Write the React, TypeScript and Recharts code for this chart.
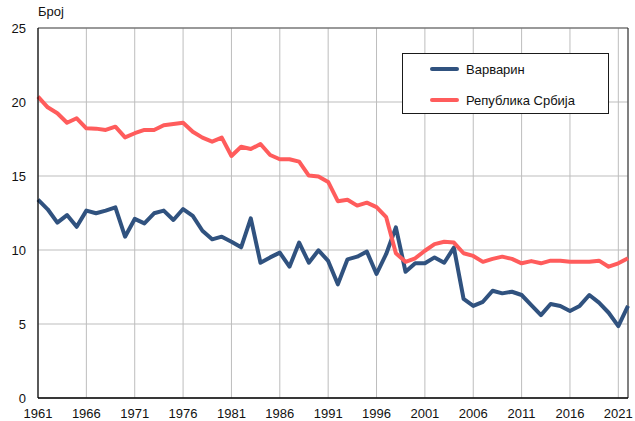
import React from "react";
import {
  LineChart,
  Line,
  XAxis,
  YAxis,
  CartesianGrid,
  Legend,
  ReferenceLine,
} from "recharts";

const years = [
  1961, 1962, 1963, 1964, 1965, 1966, 1967, 1968, 1969, 1970,
  1971, 1972, 1973, 1974, 1975, 1976, 1977, 1978, 1979, 1980,
  1981, 1982, 1983, 1984, 1985, 1986, 1987, 1988, 1989, 1990,
  1991, 1992, 1993, 1994, 1995, 1996, 1997, 1998, 1999, 2000,
  2001, 2002, 2003, 2004, 2005, 2006, 2007, 2008, 2009, 2010,
  2011, 2012, 2013, 2014, 2015, 2016, 2017, 2018, 2019, 2020,
  2021, 2022,
];

const varvarin = [
  13.4, 12.75, 11.85, 12.36, 11.57, 12.66, 12.48, 12.66, 12.88, 10.9,
  12.1, 11.8, 12.48, 12.66, 12.03, 12.77, 12.3, 11.3, 10.72, 10.9,
  10.56, 10.18, 12.14, 9.14, 9.5, 9.82, 8.87, 10.5, 9.14, 9.98,
  9.26, 7.68, 9.37, 9.55, 9.89, 8.38, 9.73, 11.53, 8.53, 9.1,
  9.1, 9.5, 9.14, 10.16, 6.69, 6.22, 6.5, 7.25, 7.07, 7.18,
  6.96, 6.28, 5.6, 6.35, 6.22, 5.88, 6.22, 6.96, 6.44, 5.76,
  4.86, 6.22,
];

const srbija = [
  20.36, 19.64, 19.24, 18.6, 18.9, 18.22, 18.2, 18.11, 18.33, 17.61,
  17.89, 18.11, 18.11, 18.43, 18.51, 18.6, 17.99, 17.59, 17.32, 17.59,
  16.35, 16.98, 16.82, 17.16, 16.42, 16.13, 16.13, 15.97, 15.03, 14.97,
  14.6, 13.3, 13.4, 13.0, 13.2, 12.9, 12.22, 9.78, 9.2, 9.44,
  9.95, 10.4, 10.56, 10.5, 9.78, 9.6, 9.2, 9.4, 9.55, 9.4,
  9.1, 9.25, 9.1, 9.28, 9.28, 9.2, 9.2, 9.2, 9.28, 8.87,
  9.1, 9.44,
];

const xTicks = [1961, 1966, 1971, 1976, 1981, 1986, 1991, 1996, 2001, 2006, 2011, 2016, 2021];
const yTicks = [0, 5, 10, 15, 20, 25];

const NAME_VARVARIN = "Варварин";
const NAME_SRBIJA = "Република Србија";
const COLOR_VARVARIN = "#30527f";
const COLOR_SRBIJA = "#ff5c5c";

const chartData = years.map((year, i) => ({
  year,
  varvarin: varvarin[i],
  srbija: srbija[i],
}));

const FONT = "'Liberation Sans', Arial, sans-serif";

function LegendBox({ payload }: { payload?: Array<{ value: string; color: string }> }) {
  return (
    <div
      style={{
        width: 205,
        height: 59,
        border: "1px solid #1a1a1a",
        background: "#fff",
        fontFamily: FONT,
        fontSize: 13,
        color: "#111",
        position: "relative",
      }}
    >
      {(payload || []).map((entry, i) => (
        <div
          key={i}
          style={{
            position: "absolute",
            left: 27,
            top: 6 + i * 31,
            height: 18,
            display: "flex",
            alignItems: "center",
          }}
        >
          <div
            style={{
              width: 29,
              height: 4,
              borderRadius: 2,
              background: entry.color,
              marginRight: 7,
            }}
          />
          <span>{entry.value}</span>
        </div>
      ))}
    </div>
  );
}

export default function App() {
  return (
    <div
      style={{
        position: "absolute",
        left: 0,
        top: 0,
        width: 635,
        height: 421,
        background: "#fff",
        fontFamily: FONT,
      }}
    >
      <div
        style={{
          position: "absolute",
          left: 38,
          top: 4,
          fontSize: 13,
          color: "#111",
        }}
      >
        Број
      </div>
      <LineChart
        width={635}
        height={421}
        data={chartData}
        margin={{ top: 28, right: 7, bottom: 0, left: 0 }}
      >
        <CartesianGrid stroke="#bdbdbd" strokeWidth={1} />
        <XAxis
          dataKey="year"
          type="number"
          domain={[1961, 2022]}
          ticks={xTicks}
          height={23}
          tickLine={false}
          tickMargin={5}
          axisLine={{ stroke: "#000", strokeWidth: 1.5 }}
          tick={{ fontSize: 13, fill: "#111", fontFamily: FONT }}
          interval={0}
        />
        <YAxis
          type="number"
          domain={[0, 25]}
          ticks={yTicks}
          width={38}
          tickLine={false}
          tickMargin={6}
          axisLine={{ stroke: "#000", strokeWidth: 1.2 }}
          tick={{ fontSize: 13, fill: "#111", fontFamily: FONT }}
          interval={0}
        />
        <ReferenceLine y={25} stroke="#555" strokeWidth={1} />
        <ReferenceLine x={2022} stroke="#222" strokeWidth={1} />
        <Line
          dataKey="varvarin"
          name={NAME_VARVARIN}
          stroke={COLOR_VARVARIN}
          strokeWidth={4}
          dot={false}
          activeDot={false}
          strokeLinejoin="round"
          isAnimationActive={false}
        />
        <Line
          dataKey="srbija"
          name={NAME_SRBIJA}
          stroke={COLOR_SRBIJA}
          strokeWidth={4}
          dot={false}
          activeDot={false}
          strokeLinejoin="round"
          isAnimationActive={false}
        />
        <Legend
          layout="horizontal"
          verticalAlign="middle"
          align="center"
          content={(props: any) => <LegendBox payload={props.payload} />}
          wrapperStyle={{ left: 402, top: 53, width: 207, height: 61, bottom: "auto" }}
        />
      </LineChart>
    </div>
  );
}
